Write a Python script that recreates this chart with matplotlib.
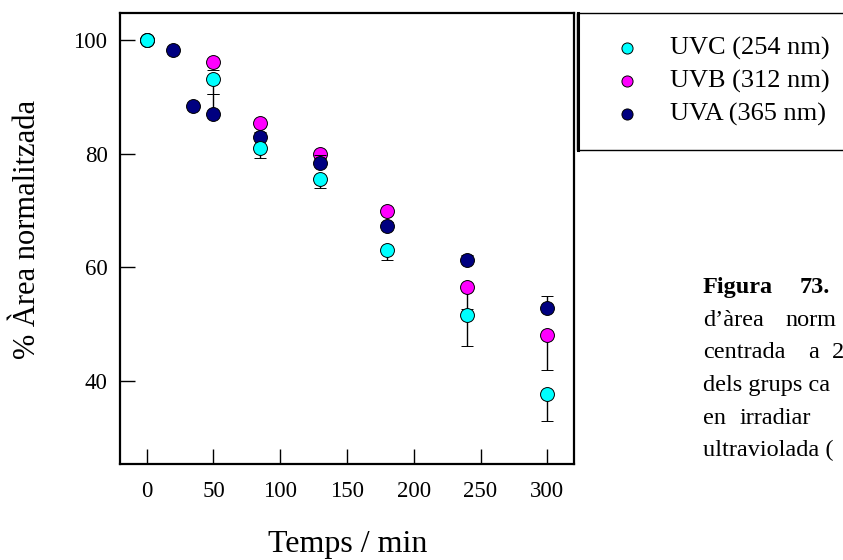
import matplotlib
matplotlib.use("Agg")
import matplotlib.pyplot as plt
from matplotlib.patches import Rectangle
from matplotlib.lines import Line2D

plt.rcParams['font.family'] = ['Liberation Serif', 'DejaVu Serif']

# --- Data ---
t_uvc = [0, 50, 85, 130, 180, 240, 300]
uvc = [100, 93.2, 81.0, 75.5, 63.1, 51.7, 37.7]
uvc_err_lo = [0, 2.7, 1.8, 1.6, 1.8, 5.5, 4.7]

t_uvb = [0, 50, 85, 130, 180, 240, 300]
uvb = [100, 96.2, 85.4, 80.0, 70.0, 56.5, 48.1]
uvb_err_lo = [0, 1.4, 0.6, 0.6, 0.6, 3.8, 6.1]

t_uva = [0, 20, 35, 50, 85, 130, 180, 240, 300]
uva = [100, 98.3, 88.4, 87.0, 82.9, 78.4, 67.2, 61.3, 52.9]
uva_err_hi = [0, 0.5, 0.5, 3.5, 1.0, 1.3, 0.8, 0.8, 2.1]

labels = ["UVC (254 nm)", "UVB (312 nm)", "UVA (365 nm)"]
colors = ["#00FFFF", "#FF00FF", "#000080"]

x_ticks = [0, 50, 100, 150, 200, 250, 300]
y_ticks = [40, 60, 80, 100]

# --- Figure ---
W, H = 843, 560
fig = plt.figure(figsize=(W / 100, H / 100), dpi=100)
ax = fig.add_axes([120 / W, 1 - 464 / H, (574 - 120) / W, (464 - 13) / H])

mk = dict(marker='o', markersize=10, markeredgecolor='black', markeredgewidth=0.7,
          linestyle='none', ecolor='black', elinewidth=1.0, capsize=4.5, capthick=1.2)

zeros_c = [0] * len(uvc)
zeros_a = [0] * len(uva)
zeros_b = [0] * len(uvb)

h_b = ax.errorbar(t_uvb, uvb, yerr=[uvb_err_lo, zeros_b], markerfacecolor=colors[1],
                  zorder=3, **mk)
h_a = ax.errorbar(t_uva, uva, yerr=[zeros_a, uva_err_hi], markerfacecolor=colors[2],
                  zorder=4, **mk)
h_c = ax.errorbar(t_uvc, uvc, yerr=[uvc_err_lo, zeros_c], markerfacecolor=colors[0],
                  zorder=5, **mk)

ax.set_xlim(-20, 320)
ax.set_ylim(25.4, 104.75)
ax.set_xticks(x_ticks)
ax.set_yticks(y_ticks)
ax.tick_params(direction='in', length=11, width=1.0, labelsize=16.5)
ax.tick_params(axis='x', pad=12)
ax.tick_params(axis='y', pad=9)
for s in ax.spines.values():
    s.set_linewidth(1.6)

# axis titles
fig.text(28 / W, 1 - 229 / H, "% Àrea normalitzada", rotation=90,
         ha='center', va='center', fontsize=22)
fig.text(347.5 / W, 1 - 552 / H, "Temps / min", ha='center', va='baseline',
         fontsize=23)

# legend box (runs off the right edge)
box = Rectangle((577 / W, 1 - 150 / H), 300 / W, 137 / H, transform=fig.transFigure,
                facecolor='white', edgecolor='black', linewidth=1.0)
fig.patches.append(box)
fig.lines.append(Line2D([578 / W, 578 / W], [1 - 150 / H, 1 - 13 / H],
                        transform=fig.transFigure, color='black', linewidth=2.2))
leg_rows = [48, 81, 114]
for lab, col, yy in zip(labels, colors, leg_rows):
    fig.lines.append(Line2D([627 / W], [1 - yy / H], transform=fig.transFigure,
                            marker='o', markersize=8, markerfacecolor=col,
                            markeredgecolor='black', markeredgewidth=0.7, linestyle='none'))
    fig.text(670 / W, 1 - yy / H, lab, ha='left', va='center', fontsize=19)

# caption (cut at the right edge)
cap = [
    (293, [(703, "Figura", 'bold'), (800, "73.", 'bold')]),
    (326, [(703, "d’àrea", 'normal'), (785, "norm", 'normal')]),
    (358, [(703, "centrada", 'normal'), (808, "a", 'normal'), (832, "2", 'normal')]),
    (391, [(703, "dels grups ca", 'normal')]),
    (424, [(703, "en", 'normal'), (740, "irradiar", 'normal')]),
    (456, [(703, "ultraviolada (", 'normal')]),
]
for yb, words in cap:
    for xw, w, fw in words:
        fig.text(xw / W, 1 - yb / H, w, ha='left', va='baseline', fontsize=17.5,
                 fontweight=fw)

fig.savefig("out.png", dpi=100)
